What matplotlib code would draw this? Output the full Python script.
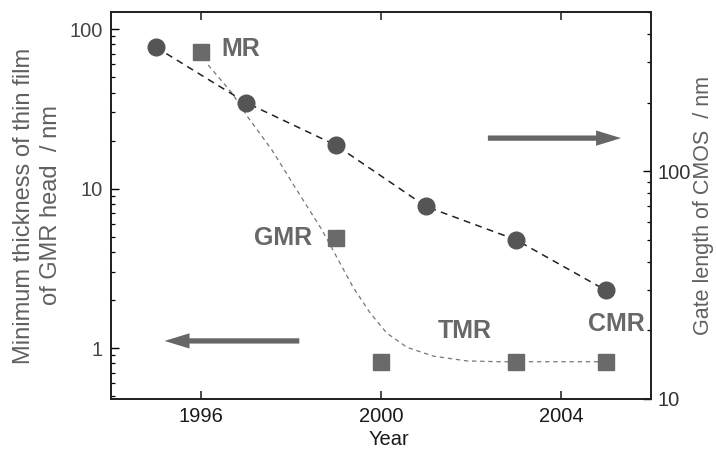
import matplotlib
matplotlib.use("Agg")
import matplotlib.pyplot as plt
from matplotlib.ticker import LogLocator, FixedLocator, NullFormatter, NullLocator

plt.rcParams["font.family"] = ["Liberation Sans", "DejaVu Sans"]

# CMOS gate length (right axis, nm)
cmos_years = [1995, 1997, 1999, 2001, 2003, 2005]
cmos_gate = [350, 200, 130, 70, 50, 30]

# head film thickness (left axis, nm)
head_years = [1996, 1999, 2000, 2003, 2005]
head_thick = [72, 4.9, 0.82, 0.82, 0.82]
head_names = ["MR", "GMR", "", "TMR", "CMR"]

# guide curve through the head data
trend_years = [1996.16, 1996.69, 1997.04, 1997.58, 1998.09, 1998.69, 1999.09,
               1999.38, 1999.76, 2000.13, 2000.58, 2001.16, 2001.91, 2002.64,
               2003.0, 2005.0]
trend_thick = [59.5, 39.7, 28.1, 17.4, 10.2, 5.5, 3.41, 2.41, 1.66, 1.24,
               1.01, 0.89, 0.83, 0.82, 0.82, 0.82]

# label offsets (points) from the marker they name
label_offsets = {"MR": (15, 2, "left"), "GMR": (-17, 0, "right"),
                 "TMR": (-37, 22, "center"), "CMR": (7.5, 27, "center")}

mark_dark = "#555555"
mark_grey = "#6a6a6a"
text_grey = "#606060"

fig = plt.figure(figsize=(7.16, 4.49), dpi=100)
ax = fig.add_axes([0.155, 0.1114, 0.754, 0.862])
ax2 = ax.twinx()

ax.plot(trend_years, trend_thick, ls=(0, (3.5, 3)), lw=0.9, color="#777777", zorder=2)
ax.plot(head_years, head_thick, "s", ms=11.5, color=mark_grey, mec=mark_grey, zorder=4, ls="none")

ax2.plot(cmos_years, cmos_gate, ls=(0, (4.5, 3.5)), lw=1.1, color="#222222", zorder=2)
ax2.plot(cmos_years, cmos_gate, "o", ms=12, color=mark_dark, mec=mark_dark, zorder=4, ls="none")

for yr, val, name in zip(head_years, head_thick, head_names):
    if not name:
        continue
    dx, dy, ha = label_offsets[name]
    ax.annotate(name, (yr, val), xytext=(dx, dy), textcoords="offset points",
                ha=ha, va="center", fontsize=18, fontweight="bold", color="#686868")

ax.set_xlim(1994, 2006)
ax.set_yscale("log")
ax.set_ylim(0.479, 128)
ax2.set_yscale("log")
ax2.set_ylim(10, 500)

ax.xaxis.set_major_locator(FixedLocator([1996, 2000, 2004]))
ax.xaxis.set_minor_locator(NullLocator())
for a in (ax, ax2):
    a.yaxis.set_major_locator(LogLocator(base=10, numticks=10))
    a.yaxis.set_minor_locator(LogLocator(base=10, subs=range(2, 10), numticks=20))
    a.yaxis.set_minor_formatter(NullFormatter())
    a.yaxis.set_major_formatter(plt.FuncFormatter(lambda v, p: f"{v:g}"))

ax.tick_params(axis="x", which="major", direction="in", length=6, width=1.1,
               top=True, labelsize=14.5, pad=6, colors="#1a1a1a")
ax.tick_params(axis="y", which="major", direction="in", length=6, width=1,
               labelsize=14.5, pad=6, labelcolor="#444444")
ax.tick_params(axis="y", which="minor", direction="in", length=3, width=0.9)
ax2.tick_params(axis="y", which="major", direction="in", length=6, width=1,
                labelsize=14.5, pad=5, labelcolor="#333333")
ax2.tick_params(axis="y", which="minor", direction="in", length=3, width=0.9)

for a in (ax, ax2):
    for sp in a.spines.values():
        sp.set_linewidth(1.3)
        sp.set_color("#222222")

ax.set_xlabel("Year", fontsize=14.5, color="#1a1a1a", va="baseline")
ax.xaxis.set_label_coords(0.515, -0.12)
ax.set_ylabel("Minimum thickness of thin film\nof GMR head  / nm", fontsize=17,
              color=text_grey, labelpad=5, linespacing=1.3)
ax2.set_ylabel("Gate length of CMOS  / nm", fontsize=15.5, color=text_grey, labelpad=1)

# direction arrows: which axis each series belongs to
arrow_kw = dict(arrowstyle="simple,head_length=1.8,head_width=1.1,tail_width=0.38",
                mutation_scale=10, color="#666666", lw=0, capstyle="round")
ax.annotate("", xy=(0.950, 0.674), xytext=(0.693, 0.674), xycoords="axes fraction",
            textcoords="axes fraction", arrowprops=arrow_kw)
ax.annotate("", xy=(0.094, 0.150), xytext=(0.354, 0.150), xycoords="axes fraction",
            textcoords="axes fraction", arrowprops=arrow_kw)

fig.savefig("out.png", dpi=100)
